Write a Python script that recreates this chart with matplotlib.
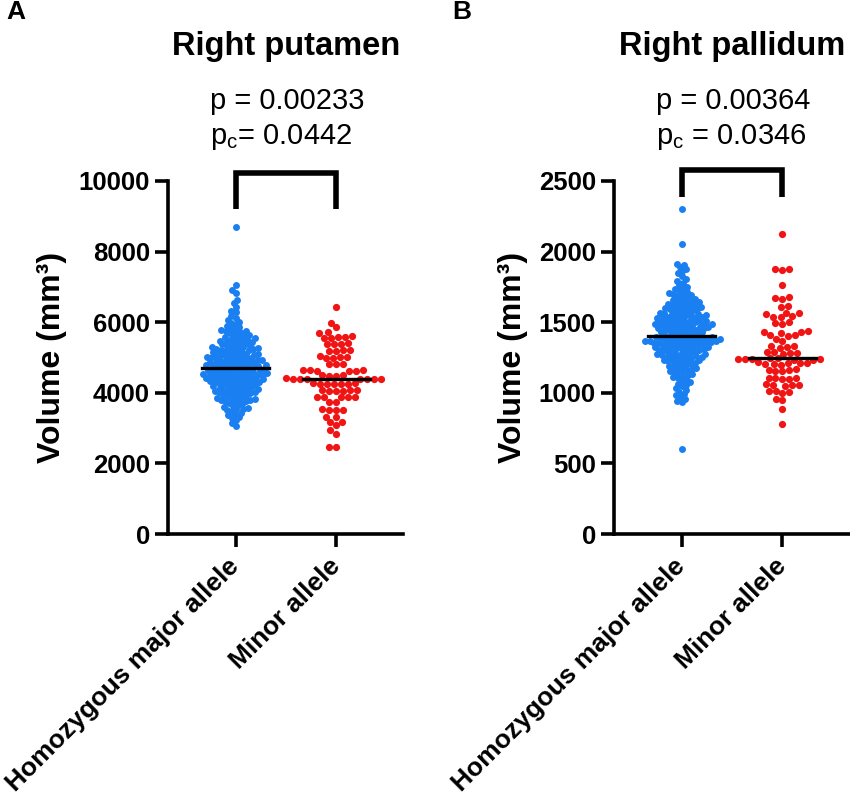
import numpy as np
import matplotlib

matplotlib.use("Agg")
import matplotlib.pyplot as plt

plt.rcParams["font.family"] = "Liberation Sans"
plt.rcParams["mathtext.fontset"] = "custom"
plt.rcParams["mathtext.rm"] = "Liberation Sans"

W, H = 850, 798
BLUE = "#1a7ff0"
RED = "#f01414"

categories = ["Homozygous major allele", "Minor allele"]

# Right putamen volumes (mm3)
putamen_major = [
    8690, 7050, 6900, 6820, 6640, 6540, 6420, 6330, 6280,
    6180, 6120, 6060, 6010,
    5980, 5940, 5900, 5870, 5830, 5800, 5780, 5760,
    5740, 5720, 5690, 5670, 5640, 5620, 5600, 5580, 5560, 5540, 5520, 5505,
    5490, 5475, 5460, 5440, 5420, 5400, 5385, 5370, 5350, 5330, 5320, 5300,
    5290, 5275, 5260, 5252,
    5245, 5230, 5220, 5205, 5190, 5180, 5165, 5150, 5140, 5125, 5110, 5100,
    5090, 5075, 5060, 5050, 5040, 5025, 5010, 5002,
    4995, 4985, 4975, 4960, 4950, 4940, 4930, 4920, 4905, 4895, 4885, 4870,
    4860, 4850, 4840, 4830, 4820, 4810, 4800, 4790, 4780, 4770, 4760, 4752,
    4745, 4735, 4725, 4715, 4705, 4690, 4680, 4670, 4660, 4650, 4640, 4630,
    4620, 4610, 4600, 4590, 4580, 4570, 4560, 4550, 4540, 4530, 4520, 4515,
    4508, 4502,
    4495, 4485, 4475, 4465, 4455, 4445, 4430, 4420, 4410, 4400, 4390, 4380,
    4370, 4360, 4350, 4340, 4330, 4320, 4310, 4300, 4290, 4275, 4265, 4255,
    4245, 4230, 4220, 4205, 4190, 4180, 4165, 4150, 4140, 4125, 4110, 4100,
    4085, 4070, 4060, 4045, 4030, 4020, 4010, 4002,
    3990, 3970, 3950, 3930, 3910, 3890, 3870, 3850, 3840, 3820, 3800, 3790,
    3775, 3765, 3755,
    3740, 3710, 3680, 3650, 3620, 3600, 3570, 3550, 3530, 3510,
    3480, 3440, 3400, 3360, 3320, 3280, 3220, 3150, 3060,
]
putamen_minor = [
    6420, 5970, 5860, 5730, 5700, 5600, 5590, 5575, 5560, 5550,
    5400, 5390, 5380, 5370, 5210, 5200, 5190, 5185,
    5030, 5020, 5010, 5000, 4995, 4830, 4820, 4815,
    4650, 4640, 4635, 4630, 4625, 4615, 4500, 4495, 4490, 4485,
    4410, 4405, 4400, 4398, 4395, 4392, 4390, 4385,
    4270, 4265, 4260, 4255, 4250, 4245, 4240,
    4080, 4075, 4070, 4065, 4060, 4055, 3890, 3885, 3880, 3875, 3870,
    3745, 3730, 3530, 3525, 3520, 3515, 3320, 3310, 3180, 3170,
    3079, 2938, 2844, 2470, 2465,
]

# Right pallidum volumes (mm3)
pallidum_major = [
    2300, 2055, 1915, 1905, 1890, 1875, 1860, 1845, 1825, 1805,
    1795, 1780, 1765, 1752, 1745, 1735, 1725, 1715, 1708, 1702,
    1698, 1690, 1684, 1676, 1670, 1664, 1658, 1652,
    1648, 1644, 1640, 1636, 1632, 1628, 1622, 1618, 1614, 1610, 1606, 1602,
    1598, 1594, 1590, 1587, 1583, 1580, 1576, 1572, 1568, 1565, 1561, 1558,
    1554, 1551,
    1548, 1545, 1542, 1539, 1536, 1533, 1530, 1527, 1524, 1521, 1518, 1515,
    1512, 1509, 1506, 1503, 1501,
    1498, 1496, 1493, 1490, 1488, 1485, 1482, 1480, 1477, 1474, 1472, 1469,
    1466, 1464, 1461, 1458, 1456, 1453, 1451,
    1448, 1444, 1441, 1437, 1434, 1430, 1427, 1423, 1420, 1416, 1413, 1409,
    1405, 1402,
    1398, 1396, 1394, 1392, 1390, 1388, 1386, 1384, 1382, 1380, 1378, 1376,
    1374, 1372, 1370, 1368, 1366, 1364, 1362, 1360, 1358, 1356, 1354, 1353,
    1352, 1351,
    1348, 1345, 1342, 1339, 1336, 1333, 1330, 1327, 1324, 1321, 1318, 1315,
    1312, 1309, 1306, 1304, 1302, 1300,
    1297, 1293, 1290, 1286, 1283, 1279, 1276, 1272, 1269, 1265, 1262, 1259,
    1256, 1253, 1251,
    1247, 1243, 1239, 1235, 1231, 1227, 1223, 1219, 1215, 1211, 1206, 1202,
    1196, 1191, 1186, 1181, 1176, 1171, 1166, 1161, 1156, 1152,
    1146, 1139, 1132, 1125, 1118, 1111, 1104,
    1095, 1085, 1075, 1065, 1055, 1045, 1032, 1020, 1008,
    995, 982, 970, 958, 945, 935, 604,
]
pallidum_minor = [
    2124, 1880, 1875, 1870, 1763, 1675, 1668, 1662, 1615, 1605,
    1568, 1562, 1556, 1542, 1538, 1534, 1498, 1492, 1486,
    1438, 1434, 1430, 1426, 1412, 1408, 1404, 1378, 1370,
    1332, 1328, 1324, 1320, 1290, 1287, 1284, 1281, 1278,
    1246, 1244, 1242, 1240, 1238, 1236, 1234, 1232,
    1215, 1212, 1210, 1208, 1206, 1204, 1200,
    1168, 1164, 1160, 1156, 1152, 1108, 1105, 1102, 1099, 1096,
    1062, 1058, 1055, 1052, 1048, 1014, 1010, 1006, 1002,
    958, 950, 883, 779,
]

panels = [
    dict(letter="A", title="Right putamen", major=putamen_major, minor=putamen_minor,
         ymax=10000, ystep=2000, p="p = 0.00233", pc="p$_{\\mathrm{c}}$= 0.0442",
         bracket=(9210, 10230), left=168),
    dict(letter="B", title="Right pallidum", major=pallidum_major, minor=pallidum_minor,
         ymax=2500, ystep=500, p="p = 0.00364", pc="p$_{\\mathrm{c}}$ = 0.0346",
         bracket=(2388, 2577), left=614),
]

AX_W, AX_TOP, AX_BOT = 235, 181, 534
XLIM = (-0.67, 1.66)


def swarm(ypx, d):
    """Beeswarm offsets (pixels) so markers keep at least d px apart."""
    xs = np.zeros(len(ypx))
    px, py = [], []
    for i in np.argsort(ypx):
        y = ypx[i]
        near = [(a, b) for a, b in zip(px, py) if abs(b - y) < d]
        cands = [0.0]
        for a, b in near:
            dx = np.sqrt(d * d - (b - y) ** 2)
            cands += [a - dx, a + dx]
        cands.sort(key=lambda c: (abs(c), c))
        for c in cands:
            if all((c - a) ** 2 + (y - b) ** 2 >= d * d - 1e-6 for a, b in near):
                xs[i] = c
                break
        px.append(xs[i])
        py.append(y)
    return xs


fig = plt.figure(figsize=(W / 100, H / 100), dpi=100)

for pn in panels:
    ax = fig.add_axes([pn["left"] / W, 1 - AX_BOT / H, AX_W / W, (AX_BOT - AX_TOP) / H])
    ax.set_xlim(*XLIM)
    ax.set_ylim(0, pn["ymax"])
    px_per_y = (AX_BOT - AX_TOP) / pn["ymax"]
    px_per_x = AX_W / (XLIM[1] - XLIM[0])

    for k, (vals, color, d, s) in enumerate(
        [(pn["major"], BLUE, 4.6, 25), (pn["minor"], RED, 7.0, 27)]
    ):
        v = np.array(vals, dtype=float)
        off = swarm(v * px_per_y, d) / px_per_x
        ax.scatter(k + off, v, s=s, color=color, lw=0, zorder=3, clip_on=False)
        med = np.median(v)
        ax.plot([k - 0.33, k + 0.33], [med, med], color="black", lw=2.4, zorder=4)

    # significance bracket
    lo, hi = pn["bracket"]
    ax.plot([0, 0, 1, 1], [lo, hi, hi, lo], color="black", lw=4,
            solid_joinstyle="miter", solid_capstyle="butt", clip_on=False, zorder=5)

    for side in ("top", "right"):
        ax.spines[side].set_visible(False)
    for side in ("left", "bottom"):
        ax.spines[side].set_linewidth(2.6)
    ax.set_yticks(np.arange(0, pn["ymax"] + 1, pn["ystep"]))
    ax.set_xticks([0, 1])
    ax.set_xticklabels(categories, rotation=45, ha="right", va="center",
                       rotation_mode="anchor", fontsize=19, fontweight="bold")
    ax.tick_params(axis="both", length=9.5, width=2.6, direction="out",
                   labelsize=18.5, pad=3.5)
    ax.tick_params(axis="x", pad=11, labelsize=19)
    for lab in ax.get_yticklabels():
        lab.set_fontweight("bold")
    ax.set_ylabel("Volume (mm³)", fontsize=23, fontweight="bold", labelpad=8)

    cx = (pn["left"] + 68 + pn["left"] + 169) / 2
    fig.text(cx / W, 1 - 47 / H, pn["title"], fontsize=23.5, fontweight="bold",
             ha="center", va="center")
    fig.text((pn["left"] + 42) / W, 1 - 101 / H, pn["p"], fontsize=21,
             ha="left", va="center")
    fig.text((pn["left"] + 42) / W, 1 - 137 / H, pn["pc"], fontsize=21,
             ha="left", va="center")
    fig.text((pn["left"] - 152) / W, 1 - 12 / H, pn["letter"], fontsize=19,
             fontweight="bold", ha="center", va="center")

fig.savefig("out.png", dpi=100)
